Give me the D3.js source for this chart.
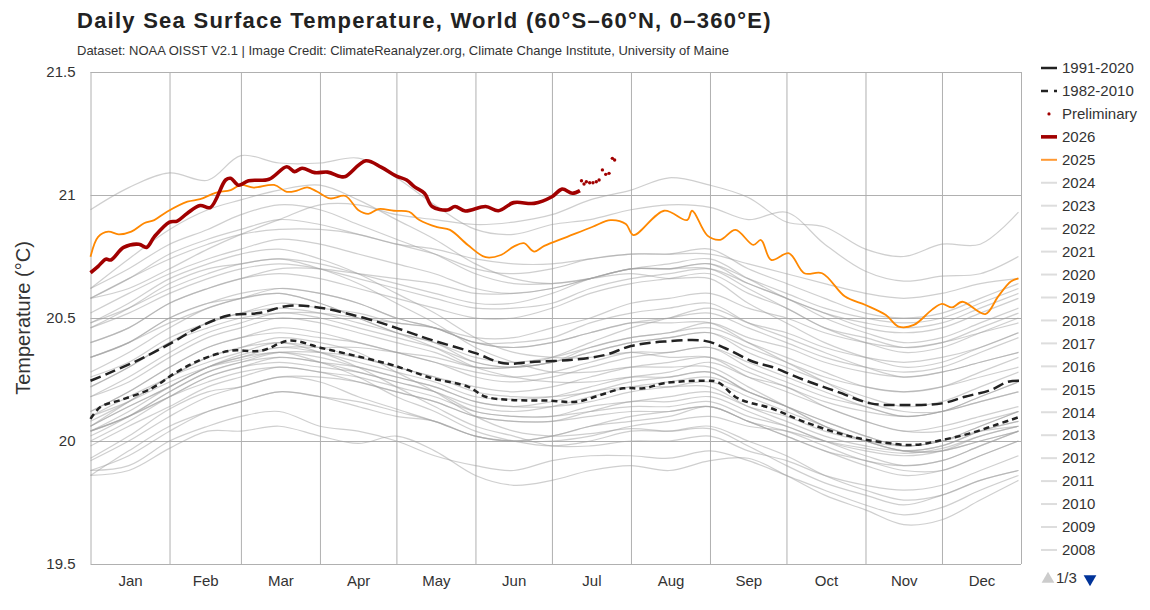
<!DOCTYPE html>
<html>
<head>
<meta charset="utf-8">
<script src="https://cdn.jsdelivr.net/npm/d3@7"></script>
<style>
  body { margin: 0; background: #fff; font-family: "Liberation Sans", Arial, sans-serif; }
</style>
</head>
<body>
<div id="container"></div>
<script>
// ---- data ----
const monthStarts = [0, 31, 59, 90, 120, 151, 181, 212, 243, 273, 304, 334, 365];
const monthNames = ["Jan", "Feb", "Mar", "Apr", "May", "Jun", "Jul", "Aug", "Sep", "Oct", "Nov", "Dec"];
const yTicks = [19.5, 20, 20.5, 21, 21.5];

// day-of-year sample points used for the gray (past) years
const grayDays = [0, 15, 31, 46, 59, 74, 90, 105, 120, 135, 151, 166, 181, 196, 212, 227, 243, 258, 273, 288, 304, 319, 334, 349, 364];

const y1982 = [19.93,20.02,20.13,20.20,20.22,20.26,20.24,20.18,20.13,20.08,20.02,20.00,20.00,20.02,20.06,20.08,20.10,20.06,20.04,20.00,19.97,19.95,19.97,20.02,20.06];
const y1983 = [20.06,20.16,20.26,20.34,20.38,20.42,20.40,20.36,20.28,20.20,20.10,20.04,20.02,20.03,20.05,20.04,20.05,19.98,19.90,19.83,19.78,19.74,19.78,19.84,19.88];
const y1984 = [19.88,19.90,20.00,20.06,20.10,20.12,20.06,20.04,20.00,19.94,19.90,19.88,19.92,19.94,19.94,19.93,19.96,19.92,19.86,19.80,19.74,19.70,19.73,19.80,19.86];
const y1985 = [19.86,19.88,19.97,20.04,20.04,20.06,20.02,19.99,20.02,19.96,19.86,19.82,19.84,19.88,19.90,19.88,19.92,19.93,19.86,19.78,19.72,19.66,19.68,19.76,19.84];
const y1986 = [19.86,19.96,20.06,20.12,20.16,20.20,20.18,20.14,20.10,20.08,20.02,20.00,20.02,20.06,20.08,20.10,20.14,20.08,20.04,19.98,19.92,19.90,19.92,19.98,20.04];
const y1987 = [20.06,20.14,20.22,20.30,20.35,20.38,20.36,20.32,20.28,20.24,20.18,20.17,20.18,20.22,20.26,20.28,20.32,20.26,20.22,20.14,20.08,20.04,20.04,20.08,20.12];
const y1988 = [20.10,20.16,20.24,20.30,20.33,20.36,20.32,20.26,20.18,20.12,20.04,20.00,19.98,20.00,20.04,20.04,20.06,20.00,19.94,19.86,19.80,19.76,19.78,19.84,19.88];
const y1989 = [19.88,19.94,20.04,20.12,20.16,20.20,20.18,20.16,20.12,20.08,20.02,20.00,20.02,20.06,20.10,20.12,20.14,20.08,20.02,19.96,19.92,19.88,19.88,19.94,20.00];
const y1990 = [20.00,20.08,20.18,20.26,20.30,20.34,20.32,20.30,20.26,20.22,20.16,20.14,20.14,20.16,20.20,20.22,20.24,20.18,20.12,20.06,20.00,19.96,19.98,20.04,20.08];
const y1991 = [20.06,20.14,20.22,20.30,20.34,20.36,20.34,20.30,20.26,20.22,20.16,20.14,20.16,20.20,20.22,20.22,20.22,20.14,20.08,20.02,19.98,19.96,19.98,20.04,20.08];
const y1992 = [20.08,20.16,20.26,20.32,20.36,20.40,20.36,20.30,20.22,20.14,20.06,20.02,19.98,19.98,20.00,20.00,20.02,19.96,19.92,19.86,19.82,19.80,19.82,19.88,19.94];
const y1993 = [19.92,20.00,20.10,20.18,20.22,20.26,20.26,20.24,20.20,20.16,20.10,20.08,20.08,20.10,20.12,20.12,20.14,20.08,20.02,19.96,19.90,19.86,19.88,19.94,20.00];
const y1994 = [19.98,20.06,20.14,20.22,20.26,20.30,20.28,20.26,20.22,20.18,20.12,20.10,20.10,20.14,20.16,20.18,20.20,20.14,20.10,20.04,20.00,19.98,20.00,20.06,20.12];
const y1995 = [20.10,20.18,20.26,20.34,20.38,20.40,20.38,20.34,20.30,20.26,20.20,20.18,20.18,20.20,20.24,20.26,20.28,20.20,20.14,20.08,20.02,19.98,20.00,20.04,20.06];
const y1996 = [20.04,20.10,20.20,20.28,20.32,20.34,20.32,20.28,20.24,20.20,20.12,20.10,20.10,20.12,20.14,20.14,20.16,20.10,20.06,20.00,19.96,19.94,19.96,20.02,20.06];
const y1997 = [20.04,20.12,20.22,20.30,20.34,20.38,20.38,20.38,20.36,20.34,20.30,20.30,20.34,20.40,20.46,20.50,20.54,20.48,20.44,20.38,20.34,20.32,20.34,20.38,20.44];
const y1998 = [20.46,20.54,20.64,20.70,20.72,20.74,20.70,20.64,20.56,20.48,20.38,20.32,20.28,20.28,20.30,20.30,20.30,20.22,20.14,20.06,20.00,19.96,19.96,20.00,20.04];
const y1999 = [20.04,20.10,20.18,20.24,20.28,20.30,20.28,20.24,20.20,20.16,20.10,20.08,20.08,20.12,20.16,20.16,20.18,20.12,20.06,20.00,19.94,19.90,19.92,19.98,20.04];
const y2000 = [20.04,20.10,20.18,20.26,20.30,20.32,20.30,20.28,20.24,20.20,20.14,20.12,20.14,20.18,20.22,20.24,20.26,20.20,20.14,20.08,20.02,19.98,20.00,20.06,20.12];
const y2001 = [20.12,20.20,20.30,20.38,20.42,20.46,20.44,20.40,20.36,20.32,20.26,20.24,20.26,20.30,20.34,20.36,20.38,20.32,20.26,20.20,20.14,20.10,20.12,20.16,20.20];
const y2002 = [20.18,20.26,20.36,20.44,20.48,20.52,20.50,20.46,20.42,20.38,20.32,20.30,20.32,20.36,20.40,20.42,20.44,20.38,20.32,20.26,20.22,20.20,20.22,20.28,20.34];
const y2003 = [20.34,20.40,20.48,20.54,20.58,20.60,20.56,20.50,20.44,20.40,20.32,20.30,20.32,20.36,20.40,20.42,20.44,20.36,20.30,20.24,20.18,20.14,20.16,20.22,20.28];
const y2004 = [20.26,20.32,20.42,20.48,20.52,20.54,20.52,20.48,20.44,20.40,20.34,20.32,20.34,20.38,20.42,20.44,20.46,20.40,20.34,20.28,20.22,20.20,20.22,20.26,20.30];
const y2005 = [20.28,20.36,20.46,20.54,20.58,20.62,20.60,20.56,20.50,20.46,20.40,20.38,20.40,20.44,20.48,20.48,20.48,20.40,20.32,20.24,20.16,20.12,20.12,20.16,20.20];
const y2006 = [20.18,20.24,20.34,20.42,20.46,20.50,20.48,20.44,20.40,20.36,20.30,20.30,20.32,20.38,20.42,20.44,20.48,20.42,20.38,20.32,20.28,20.26,20.28,20.32,20.36];
const y2007 = [20.34,20.40,20.50,20.56,20.58,20.60,20.56,20.50,20.44,20.38,20.30,20.26,20.24,20.24,20.26,20.26,20.28,20.20,20.14,20.06,20.00,19.96,19.96,20.00,20.04];
const y2008 = [20.02,20.10,20.20,20.28,20.32,20.36,20.36,20.34,20.30,20.26,20.22,20.20,20.22,20.26,20.30,20.32,20.34,20.28,20.22,20.16,20.12,20.10,20.12,20.18,20.24];
const y2009 = [20.22,20.30,20.40,20.46,20.50,20.52,20.52,20.50,20.48,20.46,20.42,20.42,20.46,20.50,20.56,20.58,20.60,20.54,20.50,20.44,20.40,20.38,20.40,20.44,20.48];
const y2010 = [20.48,20.56,20.66,20.72,20.76,20.78,20.74,20.68,20.60,20.52,20.42,20.36,20.34,20.34,20.36,20.34,20.34,20.26,20.20,20.14,20.08,20.04,20.06,20.10,20.14];
const y2011 = [20.12,20.20,20.30,20.38,20.42,20.44,20.42,20.40,20.36,20.32,20.28,20.26,20.28,20.32,20.36,20.36,20.38,20.30,20.24,20.18,20.14,20.10,20.12,20.18,20.24];
const y2012 = [20.22,20.30,20.40,20.48,20.52,20.56,20.54,20.52,20.48,20.46,20.40,20.40,20.42,20.48,20.52,20.54,20.56,20.48,20.42,20.36,20.30,20.26,20.28,20.32,20.36];
const y2013 = [20.34,20.40,20.50,20.56,20.60,20.62,20.60,20.56,20.50,20.46,20.40,20.38,20.40,20.44,20.48,20.50,20.52,20.46,20.40,20.34,20.30,20.28,20.30,20.36,20.42];
const y2014 = [20.40,20.46,20.56,20.62,20.66,20.70,20.70,20.68,20.66,20.64,20.60,20.60,20.62,20.66,20.70,20.70,20.72,20.66,20.60,20.54,20.50,20.48,20.50,20.56,20.62];
const y2015 = [20.58,20.66,20.74,20.80,20.84,20.86,20.86,20.84,20.80,20.78,20.74,20.72,20.72,20.74,20.76,20.76,20.76,20.72,20.68,20.64,20.60,20.58,20.60,20.64,20.66];
const y2016 = [20.62,20.74,20.86,20.94,20.98,21.02,21.04,20.98,20.90,20.82,20.72,20.66,20.64,20.66,20.70,20.70,20.72,20.64,20.58,20.50,20.44,20.40,20.42,20.48,20.54];
const y2017 = [20.52,20.60,20.68,20.74,20.78,20.82,20.80,20.76,20.72,20.68,20.62,20.60,20.62,20.66,20.70,20.70,20.70,20.62,20.54,20.46,20.40,20.36,20.38,20.44,20.50];
const y2018 = [20.46,20.52,20.60,20.66,20.70,20.72,20.70,20.66,20.62,20.58,20.54,20.54,20.56,20.62,20.66,20.68,20.70,20.64,20.58,20.52,20.48,20.46,20.48,20.54,20.60];
const y2019 = [20.58,20.66,20.76,20.82,20.86,20.90,20.88,20.84,20.80,20.76,20.70,20.68,20.70,20.74,20.76,20.76,20.78,20.70,20.64,20.58,20.52,20.50,20.52,20.58,20.64];
const y2020 = [20.62,20.70,20.80,20.86,20.92,20.96,20.94,20.88,20.82,20.76,20.68,20.64,20.64,20.66,20.68,20.66,20.66,20.56,20.48,20.40,20.34,20.30,20.32,20.38,20.44];
const y2021 = [20.40,20.46,20.56,20.62,20.66,20.68,20.66,20.62,20.58,20.54,20.50,20.50,20.54,20.60,20.64,20.66,20.68,20.60,20.54,20.46,20.42,20.38,20.40,20.46,20.52];
const y2022 = [20.48,20.54,20.62,20.68,20.72,20.74,20.72,20.68,20.64,20.60,20.56,20.56,20.60,20.66,20.70,20.72,20.74,20.66,20.58,20.52,20.46,20.44,20.46,20.52,20.58];
const y2023 = [20.58,20.62,20.70,20.78,20.84,20.90,20.96,20.96,20.92,20.90,20.88,20.89,20.92,20.98,21.02,21.07,21.04,20.99,20.89,20.87,20.78,20.75,20.80,20.80,20.93];
const y2024 = [20.94,21.03,21.09,21.06,21.16,21.13,21.13,21.15,21.07,20.96,20.86,20.84,20.88,20.90,20.94,20.96,20.95,20.90,20.93,20.80,20.69,20.65,20.67,20.68,20.75];

const grayYears = [y1982, y1983, y1984, y1985, y1986, y1987, y1988, y1989, y1990, y1991,
  y1992, y1993, y1994, y1995, y1996, y1997, y1998, y1999, y2000, y2001, y2002, y2003,
  y2004, y2005, y2006, y2007, y2008, y2009, y2010, y2011, y2012, y2013, y2014, y2015,
  y2016, y2017, y2018, y2019, y2020, y2021, y2022, y2023, y2024];

// climatologies: [day, value]
const clim9120 = [[0,20.245],[7,20.275],[19,20.33],[32,20.40],[42,20.46],[54,20.51],[66,20.52],[78,20.55],[88,20.545],[100,20.52],[114,20.48],[124,20.445],[134,20.41],[151,20.357],[162,20.316],[174,20.322],[189,20.33],[202,20.35],[212,20.386],[225,20.404],[241,20.407],[249,20.377],[260,20.322],[267,20.302],[280,20.248],[293,20.20],[306,20.153],[319,20.146],[334,20.153],[343,20.18],[353,20.207],[360,20.241],[365,20.245]];
const clim8210 = [[0,20.09],[4,20.139],[12,20.167],[24,20.214],[33,20.275],[43,20.329],[55,20.367],[67,20.367],[78,20.408],[91,20.377],[104,20.346],[117,20.313],[124,20.29],[134,20.255],[148,20.221],[155,20.18],[165,20.167],[180,20.164],[191,20.16],[200,20.187],[209,20.214],[217,20.214],[225,20.235],[241,20.245],[246,20.24],[254,20.173],[267,20.133],[280,20.078],[296,20.024],[309,19.997],[323,19.984],[334,20.004],[345,20.031],[355,20.065],[365,20.10]];

// 2025 full year and 2026 so far: [day, value]
const data2025 = [[0,20.749],[3,20.83],[7,20.851],[11,20.84],[16,20.851],[21,20.885],[25,20.898],[30,20.932],[38,20.973],[43,20.983],[49,21.009],[55,21.02],[59,21.041],[64,21.03],[72,21.041],[77,21.013],[81,21.018],[85,21.031],[89,21.013],[94,20.986],[100,20.996],[105,20.939],[109,20.923],[113,20.943],[119,20.936],[125,20.932],[129,20.898],[136,20.869],[141,20.858],[148,20.797],[155,20.747],[161,20.756],[166,20.79],[170,20.804],[174,20.77],[178,20.793],[187,20.83],[197,20.871],[204,20.898],[210,20.882],[213,20.837],[225,20.936],[234,20.898],[236,20.936],[242,20.835],[247,20.818],[253,20.858],[260,20.797],[263,20.817],[267,20.736],[274,20.763],[280,20.682],[287,20.682],[296,20.587],[304,20.553],[312,20.512],[317,20.465],[323,20.472],[330,20.533],[334,20.557],[338,20.543],[342,20.566],[351,20.516],[356,20.587],[361,20.648],[364,20.661]];
const data2026 = [[0,20.684],[3,20.71],[6,20.739],[8,20.736],[13,20.787],[19,20.80],[22,20.787],[25,20.83],[31,20.89],[34,20.894],[38,20.926],[43,20.957],[47,20.949],[53,21.061],[55,21.068],[58,21.04],[62,21.058],[70,21.064],[77,21.115],[80,21.095],[83,21.109],[88,21.091],[93,21.093],[98,21.075],[100,21.075],[108,21.139],[114,21.113],[120,21.077],[124,21.061],[127,21.034],[131,21.007],[134,20.953],[140,20.939],[143,20.953],[147,20.935],[155,20.953],[160,20.936],[166,20.969],[174,20.966],[181,20.993],[185,21.024],[189,21.007],[192,21.018]];
const prelim2026 = [[192.6,21.058],[193.6,21.045],[194.5,21.054],[195.8,21.05],[197.1,21.05],[198.4,21.054],[199.5,21.061],[200.8,21.102],[202.1,21.084],[203.4,21.088],[204.7,21.149],[205.6,21.142]];

const legendLabels = ["1991-2020", "1982-2010", "Preliminary", "2026", "2025", "2024", "2023", "2022",
  "2021", "2020", "2019", "2018", "2017", "2016", "2015", "2014", "2013", "2012", "2011", "2010", "2009", "2008"];

// ---- chart ----
const W = 1150, H = 610;
const margin = { top: 72, right: 129, bottom: 46, left: 90.5 };
const width = W - margin.left - margin.right;
const height = H - margin.top - margin.bottom;

const svg = d3.select("#container").append("svg")
  .attr("width", W)
  .attr("height", H)
  .style("font-family", "'Liberation Sans', Arial, sans-serif");

const g = svg.append("g").attr("transform", `translate(${margin.left},${margin.top})`);

const x = d3.scaleLinear().domain([0, 365]).range([0, width]);
const y = d3.scaleLinear().domain([19.5, 21.5]).range([height, 0]);

// grid: horizontal
g.append("g")
  .call(d3.axisLeft(y).tickValues(yTicks).tickSize(-width).tickFormat(""))
  .call(s => s.select(".domain").remove())
  .selectAll("line").attr("stroke", "#b0b0b0").attr("stroke-width", 1);

// grid: vertical month boundaries
g.append("g")
  .attr("transform", `translate(0,${height})`)
  .call(d3.axisBottom(x).tickValues(monthStarts).tickSize(-height).tickFormat(""))
  .call(s => s.select(".domain").remove())
  .selectAll("line").attr("stroke", "#b0b0b0").attr("stroke-width", 1);

// y tick labels
g.append("g")
  .call(d3.axisLeft(y).tickValues(yTicks).tickSize(0).tickPadding(15).tickFormat(d3.format("")))
  .call(s => s.select(".domain").remove())
  .selectAll("text").attr("font-size", 15).attr("fill", "#333")
  .attr("font-family", "'Liberation Sans', Arial, sans-serif");

// month labels centered in each month
const mids = monthStarts.slice(0, 12).map((d, i) => (d + monthStarts[i + 1]) / 2);
g.append("g")
  .attr("transform", `translate(0,${height})`)
  .call(d3.axisBottom(x).tickValues(mids).tickSize(0).tickPadding(11)
    .tickFormat((d, i) => monthNames[i]))
  .call(s => s.select(".domain").remove())
  .selectAll("text").attr("font-size", 15).attr("fill", "#333")
  .attr("font-family", "'Liberation Sans', Arial, sans-serif");

// y axis title
svg.append("text")
  .attr("transform", `translate(23,${margin.top + height / 2}) rotate(-90)`)
  .attr("text-anchor", "middle")
  .attr("dy", "0.35em")
  .attr("font-size", 20)
  .attr("fill", "#333")
  .text("Temperature (°C)");

const plot = g.append("g");

// gray years
const grayLine = d3.line()
  .x((d, i) => x(grayDays[i]))
  .y(d => y(d))
  .curve(d3.curveCatmullRom);

plot.selectAll("path.gray")
  .data(grayYears)
  .enter().append("path")
  .attr("class", "gray")
  .attr("d", grayLine)
  .attr("fill", "none")
  .attr("stroke", "#a0a0a0")
  .attr("stroke-opacity", 0.5)
  .attr("stroke-width", 1.2);

const pairLine = d3.line()
  .x(d => x(d[0]))
  .y(d => y(d[1]))
  .curve(d3.curveCatmullRom);

plot.append("path")
  .attr("d", pairLine(clim8210))
  .attr("fill", "none")
  .attr("stroke", "#222")
  .attr("stroke-width", 2.5)
  .attr("stroke-dasharray", "6,4");

plot.append("path")
  .attr("d", pairLine(clim9120))
  .attr("fill", "none")
  .attr("stroke", "#222")
  .attr("stroke-width", 2.5)
  .attr("stroke-dasharray", "11,5");

plot.append("path")
  .attr("d", pairLine(data2025))
  .attr("fill", "none")
  .attr("stroke", "#ff8800")
  .attr("stroke-width", 1.8);

plot.append("path")
  .attr("d", pairLine(data2026))
  .attr("fill", "none")
  .attr("stroke", "#a10000")
  .attr("stroke-width", 3.6)
  .attr("stroke-linejoin", "round");

plot.selectAll("circle.prelim")
  .data(prelim2026)
  .enter().append("circle")
  .attr("class", "prelim")
  .attr("cx", d => x(d[0]))
  .attr("cy", d => y(d[1]))
  .attr("r", 1.7)
  .attr("fill", "#a10000");

// title + credit
svg.append("text")
  .attr("x", 77).attr("y", 28)
  .attr("font-size", 22)
  .attr("font-weight", "bold")
  .attr("letter-spacing", 1.25)
  .attr("fill", "#222")
  .text("Daily Sea Surface Temperature, World (60°S–60°N, 0–360°E)");

svg.append("text")
  .attr("x", 77).attr("y", 55)
  .attr("font-size", 13)
  .attr("fill", "#333")
  .text("Dataset: NOAA OISST V2.1 | Image Credit: ClimateReanalyzer.org, Climate Change Institute, University of Maine");

// legend
const legend = svg.append("g").attr("transform", "translate(1041,68)");
const rowH = 22.95;
const item = legend.selectAll("g.item")
  .data(legendLabels)
  .enter().append("g")
  .attr("class", "item")
  .attr("transform", (d, i) => `translate(0,${i * rowH})`);

item.each(function (d, i) {
  const s = d3.select(this);
  if (d === "Preliminary") {
    s.append("circle").attr("cx", 8).attr("cy", 0).attr("r", 1.6).attr("fill", "#a10000");
  } else if (d === "1982-2010") {
    s.append("line").attr("x1", 0).attr("x2", 16).attr("y1", 0).attr("y2", 0)
      .attr("stroke", "#222").attr("stroke-width", 2.5).attr("stroke-dasharray", "7,6");
  } else {
    const st = d === "1991-2020" ? ["#222", 2.5] : d === "2026" ? ["#a10000", 3.6]
      : d === "2025" ? ["#ff9933", 2] : ["#dddddd", 2];
    s.append("line").attr("x1", 0).attr("x2", 16).attr("y1", 0).attr("y2", 0)
      .attr("stroke", st[0]).attr("stroke-width", st[1]);
  }
  s.append("text")
    .attr("x", 21).attr("y", 0).attr("dy", "0.35em")
    .attr("font-size", 15).attr("fill", "#333")
    .text(d);
});

// legend pager
const pager = svg.append("g").attr("transform", "translate(1041,578)");
pager.append("path")
  .attr("d", d3.symbol(d3.symbolTriangle, 70)())
  .attr("transform", "translate(7,1)")
  .attr("fill", "#cccccc");
pager.append("text")
  .attr("x", 15).attr("y", 0).attr("dy", "0.35em")
  .attr("font-size", 15).attr("fill", "#333")
  .text("1/3");
pager.append("path")
  .attr("d", d3.symbol(d3.symbolTriangle, 70)())
  .attr("transform", "translate(49,1) rotate(180)")
  .attr("fill", "#003399");
</script>
</body>
</html>
